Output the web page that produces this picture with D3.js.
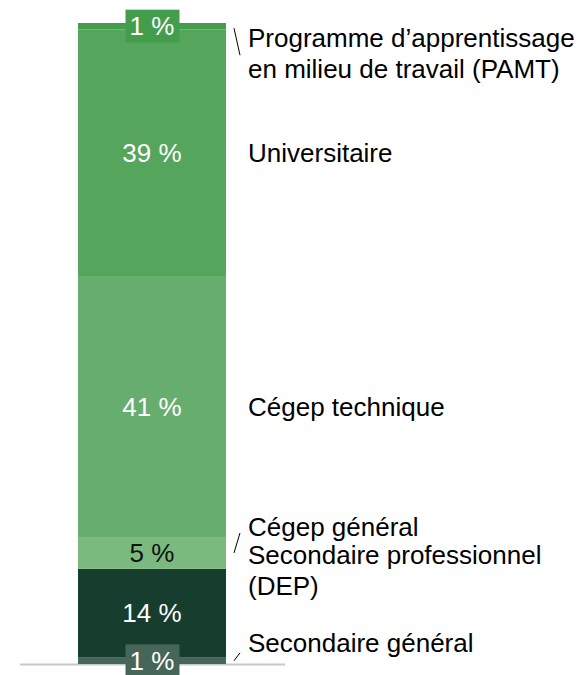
<!DOCTYPE html>
<html lang="fr">
<head>
<meta charset="utf-8">
<script src="https://cdn.jsdelivr.net/npm/d3@7"></script>
<style>
  html, body { margin: 0; padding: 0; background: #ffffff; }
  svg { display: block; }
  text { font-family: "Liberation Sans", Arial, sans-serif; }
</style>
</head>
<body>
<svg id="chart" width="586" height="675"></svg>
<script>
// Répartition par niveau de formation (du bas vers le haut de la barre)
const categories = [
  "Secondaire général",
  "Secondaire professionnel (DEP)",
  "Cégep général",
  "Cégep technique",
  "Universitaire",
  "Programme d’apprentissage en milieu de travail (PAMT)"
];
const values = [1, 14, 5, 41, 39, 1];
const labelLines = [
  ["Secondaire général"],
  ["Secondaire professionnel", "(DEP)"],
  ["Cégep général"],
  ["Cégep technique"],
  ["Universitaire"],
  ["Programme d’apprentissage", "en milieu de travail (PAMT)"]
];
const colors = ["#46665a", "#173d2e", "#7aba7e", "#67ae6e", "#55a55c", "#449d4c"];
const valueTextColors = ["#ffffff", "#ffffff", "#111111", "#ffffff", "#ffffff", "#ffffff"];

// Décalage vertical des étiquettes de droite et traits de rappel
const labelNudge = [-18, -42.5, -26.5, 0, 0, 27];
const leaders = [[0, -8], null, [0, -20], null, null, [2, 29]];

const svg = d3.select("#chart");
const fontSize = 26;
const lineGap = 31;

const total = d3.sum(values);
const y = d3.scaleLinear().domain([0, total]).range([664, 23]);
const x = d3.scaleBand().domain(["Total"]).range([78, 226]).padding(0);

const stacked = [];
let acc = 0;
values.forEach((v, i) => {
  stacked.push({ i, cat: categories[i], v, y0: acc, y1: acc + v });
  acc += v;
});

// Ligne de base
svg.append("line")
  .attr("x1", 20).attr("x2", 285)
  .attr("y1", 664.5).attr("y2", 664.5)
  .attr("stroke", "#c8c8c8")
  .attr("stroke-width", 2);

// Segments empilés
svg.append("g").selectAll("rect")
  .data(stacked)
  .join("rect")
  .attr("x", x("Total"))
  .attr("width", x.bandwidth())
  .attr("y", d => y(d.y1))
  .attr("height", d => y(d.y0) - y(d.y1))
  .attr("fill", d => colors[d.i]);

const fmt = d => d3.format(".0f")(d) + " %";
const cx = x("Total") + x.bandwidth() / 2;
const mid = d => (y(d.y0) + y(d.y1)) / 2;

// Étiquettes de valeur (dans un cartouche lorsque le segment est trop mince)
const vg = svg.append("g");
stacked.forEach(d => {
  const h = y(d.y0) - y(d.y1);
  const m = mid(d);
  if (h < 20) {
    const boxW = 54, boxH = 33;
    vg.append("rect")
      .attr("x", cx - boxW / 2 + 0.5)
      .attr("y", m - boxH / 2)
      .attr("width", boxW)
      .attr("height", boxH)
      .attr("fill", colors[d.i]);
  }
  vg.append("text")
    .attr("x", cx)
    .attr("y", m)
    .attr("dy", "0.35em")
    .attr("text-anchor", "middle")
    .attr("font-size", fontSize)
    .attr("fill", valueTextColors[d.i])
    .text(fmt(d.v));
});

// Étiquettes de catégorie à droite
const lx = x("Total") + x.bandwidth() + 22;
const lg = svg.append("g");
stacked.forEach(d => {
  const lines = labelLines[d.i];
  const c = mid(d) + labelNudge[d.i];
  const first = c - (lines.length - 1) * lineGap / 2;
  const t = lg.append("text")
    .attr("font-size", fontSize)
    .attr("fill", "#000000");
  lines.forEach((ln, k) => {
    t.append("tspan")
      .attr("x", lx)
      .attr("y", first + k * lineGap)
      .attr("dy", "0.35em")
      .text(ln);
  });
  const ld = leaders[d.i];
  if (ld) {
    const x1 = x("Total") + x.bandwidth() + 8;
    lg.append("line")
      .attr("x1", x1)
      .attr("y1", mid(d) + ld[0])
      .attr("x2", x1 + 6)
      .attr("y2", mid(d) + ld[1])
      .attr("stroke", "#000000")
      .attr("stroke-width", 1);
  }
});
</script>
</body>
</html>
